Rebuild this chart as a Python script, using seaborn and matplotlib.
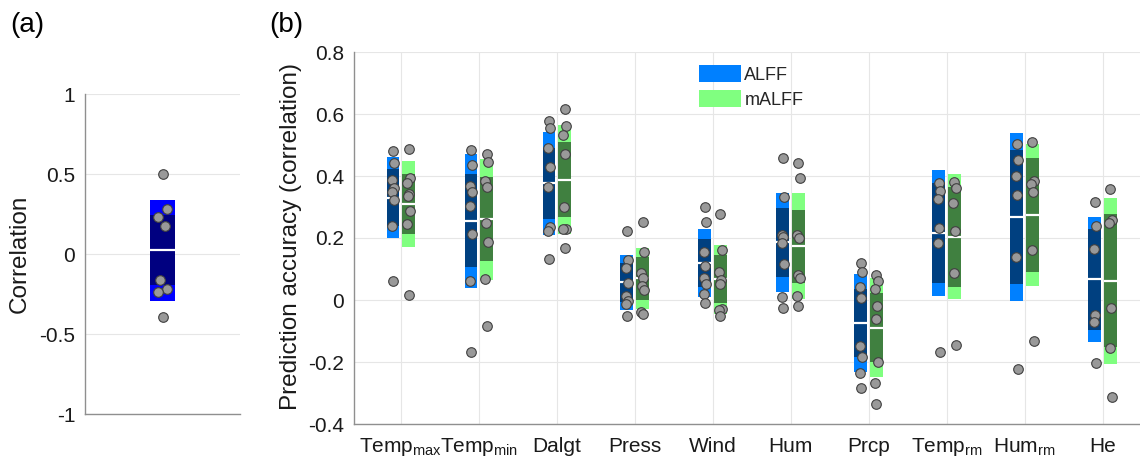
import numpy as np
import pandas as pd
import matplotlib
matplotlib.use("Agg")
import matplotlib.pyplot as plt
from matplotlib.patches import Patch
import seaborn as sns

# ---------------- data ----------------
corr_a = [0.500, 0.280, 0.233, 0.177, -0.163, -0.217, -0.238, -0.392]

features = ["Temp$_{max}$", "Temp$_{min}$", "Dalgt", "Press", "Wind", "Hum",
            "Prcp", "Temp$_{rm}$", "Hum$_{rm}$", "He"]
methods = ["ALFF", "mALFF"]

alff_temp_max = [0.481, 0.443, 0.387, 0.361, 0.347, 0.323, 0.239, 0.061]
malff_temp_max = [0.486, 0.392, 0.379, 0.342, 0.336, 0.288, 0.245, 0.015]
alff_temp_min = [0.484, 0.434, 0.368, 0.348, 0.303, 0.214, 0.061, -0.167]
malff_temp_min = [0.471, 0.445, 0.385, 0.365, 0.249, 0.187, 0.068, -0.085]
alff_dalgt = [0.576, 0.554, 0.491, 0.429, 0.365, 0.237, 0.224, 0.131]
malff_dalgt = [0.617, 0.560, 0.533, 0.470, 0.299, 0.229, 0.229, 0.169]
alff_press = [0.221, 0.130, 0.102, 0.054, 0.014, -0.002, -0.013, -0.053]
malff_press = [0.253, 0.154, 0.086, 0.070, 0.044, 0.031, -0.038, -0.045]
alff_wind = [0.301, 0.252, 0.156, 0.109, 0.072, 0.053, 0.020, -0.009]
malff_wind = [0.277, 0.162, 0.090, 0.066, 0.051, -0.028, -0.032, -0.051]
alff_hum = [0.458, 0.333, 0.209, 0.202, 0.184, 0.116, 0.010, -0.026]
malff_hum = [0.442, 0.392, 0.209, 0.200, 0.082, 0.071, 0.012, -0.018]
alff_prcp = [0.120, 0.091, 0.043, 0.005, -0.149, -0.184, -0.237, -0.283]
malff_prcp = [0.080, 0.062, 0.034, -0.020, -0.060, -0.201, -0.268, -0.337]
alff_temp_rm = [0.377, 0.351, 0.325, 0.233, 0.183, -0.168]
malff_temp_rm = [0.382, 0.360, 0.312, 0.224, 0.087, -0.144]
alff_hum_rm = [0.502, 0.453, 0.399, 0.339, 0.140, -0.222]
malff_hum_rm = [0.510, 0.383, 0.374, 0.349, 0.162, -0.132]
alff_he = [0.317, 0.238, 0.163, -0.048, -0.070, -0.203]
malff_he = [0.359, 0.259, 0.249, -0.026, -0.154, -0.314]

alff_sets = [alff_temp_max, alff_temp_min, alff_dalgt, alff_press, alff_wind,
             alff_hum, alff_prcp, alff_temp_rm, alff_hum_rm, alff_he]
malff_sets = [malff_temp_max, malff_temp_min, malff_dalgt, malff_press, malff_wind,
              malff_hum, malff_prcp, malff_temp_rm, malff_hum_rm, malff_he]

# ---------------- style ----------------
sns.set_theme(style="white")
plt.rcParams["font.family"] = ["Liberation Sans", "DejaVu Sans"]
plt.rcParams["mathtext.default"] = "regular"
TXT = "#1a1a1a"
SPINE = "#8f8f8f"
GRID = "#e6e6e6"
TICK_FS = 15
LABEL_FS = 17.5

light = {"A": "#0000ff", "ALFF": "#0080ff", "mALFF": "#80ff80"}
dark = {"A": "#000080", "ALFF": "#004080", "mALFF": "#408040"}
BOXW = 0.165
OFFSET = {"ALFF": -0.1, "mALFF": 0.1}


def jitter(n, amp):
    pattern = np.array([0.0, 1.0, -1.0, 0.5, -0.5, 1.0, -1.0, 0.0])
    return amp * pattern[:n]


def not_box(ax, xc, vals, key):
    v = np.asarray(vals, float)
    m = v.mean()
    sd = v.std(ddof=1)
    ci = 1.96 * sd / np.sqrt(len(v))
    ax.bar(xc, 2 * sd, bottom=m - sd, width=BOXW, color=light[key],
           edgecolor="none", zorder=2)
    ax.bar(xc, 2 * ci, bottom=m - ci, width=BOXW, color=dark[key],
           edgecolor="none", zorder=3)
    ax.plot([xc - BOXW / 2, xc + BOXW / 2], [m, m], color="white", lw=1.6,
            zorder=4, solid_capstyle="butt")


def style_axes(ax):
    for s in ["top", "right"]:
        ax.spines[s].set_visible(False)
    for s in ["left", "bottom"]:
        ax.spines[s].set_color(SPINE)
        ax.spines[s].set_linewidth(1.0)
    ax.tick_params(direction="in", length=4, width=0.8, color=SPINE,
                   labelsize=TICK_FS, labelcolor=TXT, pad=7)
    ax.tick_params(axis="x", pad=9)
    ax.set_axisbelow(True)


W, H = 1140, 466
fig = plt.figure(figsize=(W / 100, H / 100), dpi=100)

# ---------------- panel (a) ----------------
axa = fig.add_axes([85 / W, 1 - 414 / H, 155 / W, 320 / H])
not_box(axa, 1.0, corr_a, "A")
dfa = pd.DataFrame({"x": 1.0 + jitter(len(corr_a), 0.03), "y": corr_a})
sns.scatterplot(data=dfa, x="x", y="y", ax=axa, s=48, color="#999999",
                edgecolor="#404040", linewidth=0.8, zorder=5, legend=False)
axa.set_xlim(0.5, 1.5)
axa.set_ylim(-1, 1)
axa.set_yticks([-1, -0.5, 0, 0.5, 1])
axa.set_yticklabels(["-1", "-0.5", "0", "0.5", "1"])
axa.set_xticks([])
axa.yaxis.grid(True, color=GRID, lw=0.8)
style_axes(axa)
axa.set_xlabel("")
axa.set_ylabel("Correlation", fontsize=LABEL_FS, color=TXT)
axa.yaxis.label.set_verticalalignment("center")
axa.yaxis.set_label_coords(-0.42, 0.5)

# ---------------- panel (b) ----------------
axb = fig.add_axes([354 / W, 1 - 424 / H, 786 / W, 372 / H])
rows = []
for i, feat in enumerate(features):
    for meth, sets in (("ALFF", alff_sets), ("mALFF", malff_sets)):
        vals = sets[i]
        xc = i + 1 + OFFSET[meth]
        not_box(axb, xc, vals, meth)
        jx = jitter(len(vals), 0.015)
        for v, j in zip(vals, jx):
            rows.append({"x": xc + j, "y": v, "method": meth, "feature": feat})
dfb = pd.DataFrame(rows)
sns.scatterplot(data=dfb, x="x", y="y", ax=axb, s=48, color="#999999",
                edgecolor="#404040", linewidth=0.8, zorder=5, legend=False)
axb.set_xlim(0.4, 10.48)
axb.set_ylim(-0.4, 0.8)
axb.set_yticks(np.round(np.arange(-0.4, 0.81, 0.2), 1))
axb.set_yticklabels(["-0.4", "-0.2", "0", "0.2", "0.4", "0.6", "0.8"])
axb.set_xticks(np.arange(1, len(features) + 1))
axb.set_xticklabels(features)
axb.grid(True, color=GRID, lw=0.8)
style_axes(axb)
axb.set_xlabel("")
axb.set_ylabel("Prediction accuracy (correlation)", fontsize=LABEL_FS, color=TXT)
axb.yaxis.label.set_verticalalignment("center")
axb.yaxis.set_label_coords(-0.080, 0.503)

handles = [Patch(facecolor=light[m], edgecolor="none", label=m) for m in methods]
axb.legend(handles=handles, loc="upper left", bbox_to_anchor=(0.43, 0.985),
           frameon=False, fontsize=13, handlelength=2.3, handleheight=1.1,
           handletextpad=0.2, labelspacing=0.35, borderaxespad=0)

# panel letters
fig.text(10 / W, 1 - 12 / H, "(a)", fontsize=20, color="black", va="top", ha="left")
fig.text(269 / W, 1 - 12 / H, "(b)", fontsize=20, color="black", va="top", ha="left")

fig.savefig("out.png", dpi=100)
